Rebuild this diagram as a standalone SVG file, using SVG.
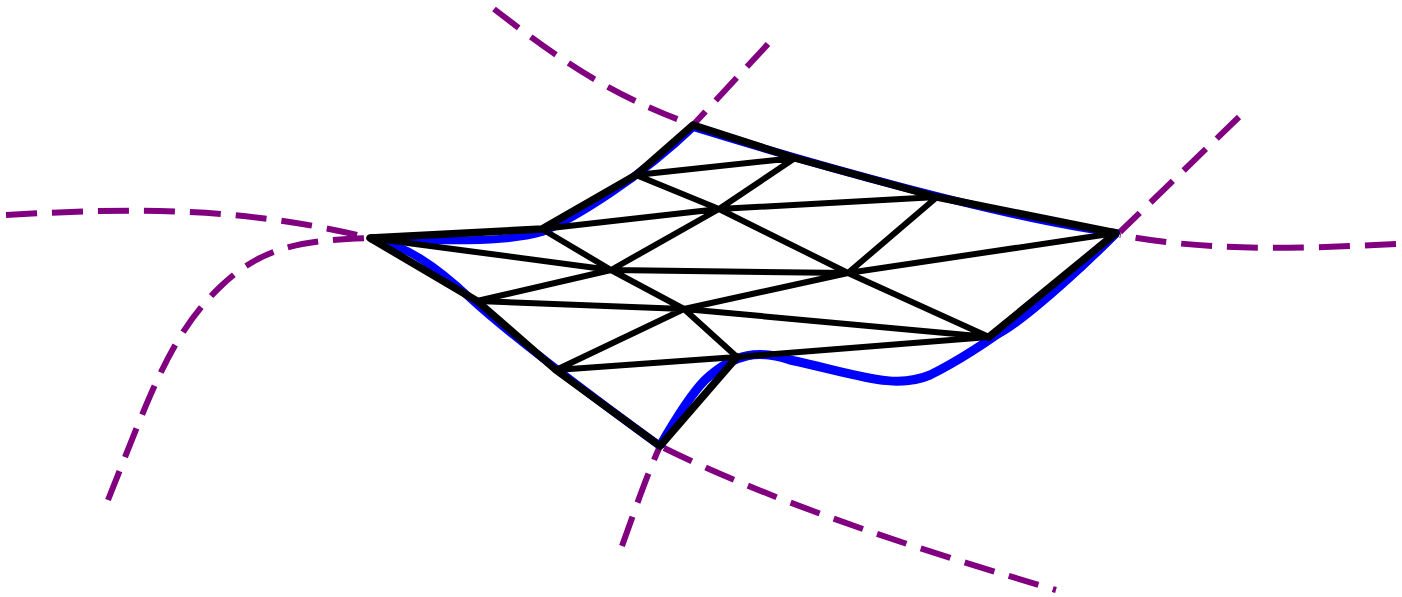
<svg xmlns="http://www.w3.org/2000/svg" width="1402" height="597" viewBox="0 0 1402 597">
<style>
.d{fill:none;stroke:#800080;stroke-width:6;stroke-dasharray:31 15}
.b{fill:none;stroke:#0000ff;stroke-width:8;stroke-linejoin:round}
.f{fill:none;stroke:#0000ff;stroke-width:9;stroke-linejoin:round}
.e{fill:none;stroke:#000;stroke-width:6;stroke-linecap:round}
.o{fill:none;stroke:#000;stroke-width:7.5;stroke-linecap:round;stroke-linejoin:round}
</style>
<rect width="1402" height="597" fill="#fff"/>
<g id="dashed">
<path class="d" d="M494 9C560 60 610 95 693 125"/>
<path class="d" d="M768 44L693 125"/>
<path class="d" d="M1239 117L1120 232"/>
<path class="d" d="M1396 244C1280 250 1200 250 1120 235"/>
<path class="d" d="M6 215C130 208 240 206 370 238"/>
<path class="d" d="M108 500C150 395 170 335 220 287C260 248 300 240 370 238"/>
<path class="d" d="M622 546C635 510 645 480 660 446"/>
<path class="d" d="M664 448C780 505 920 550 1056 590"/>
</g>
<g id="boundary">
<path class="b" d="M370 238C440 241 505 243 542 232C575 218 640 178 693 127C800 160 1000 218 1116 233C1060 290 1000 340 989 337"/>
<path class="f" d="M1116 233C1060 290 990 345 930 375C895 390 860 375 790 360C760 350 735 352 705 380C690 395 675 420 660 446"/>
<path class="b" d="M660 446C590 395 510 335 470 298C435 265 405 245 370 238"/>
</g>
<g id="edges">
<path class="o" d="M477 301L370 238L542 229L636 175L693 125L795 158L937 197L1116 233L989 337M737 357L660 446L556 370L477 301"/>
<path class="e" d="M636 175L795 158M636 175L719 209M795 158L719 209M542 229L719 209M719 209L937 197M719 209L611 270M719 209L848 273M937 197L848 273M848 273L1116 233M542 229L611 270M370 238L611 270M611 270L848 273M611 270L684 309M477 301L611 270M477 301L684 309M684 309L848 273M848 273L989 337M684 309L989 337M684 309L737 357M684 309L556 370M556 370L737 357L989 337"/>
</g>
</svg>
